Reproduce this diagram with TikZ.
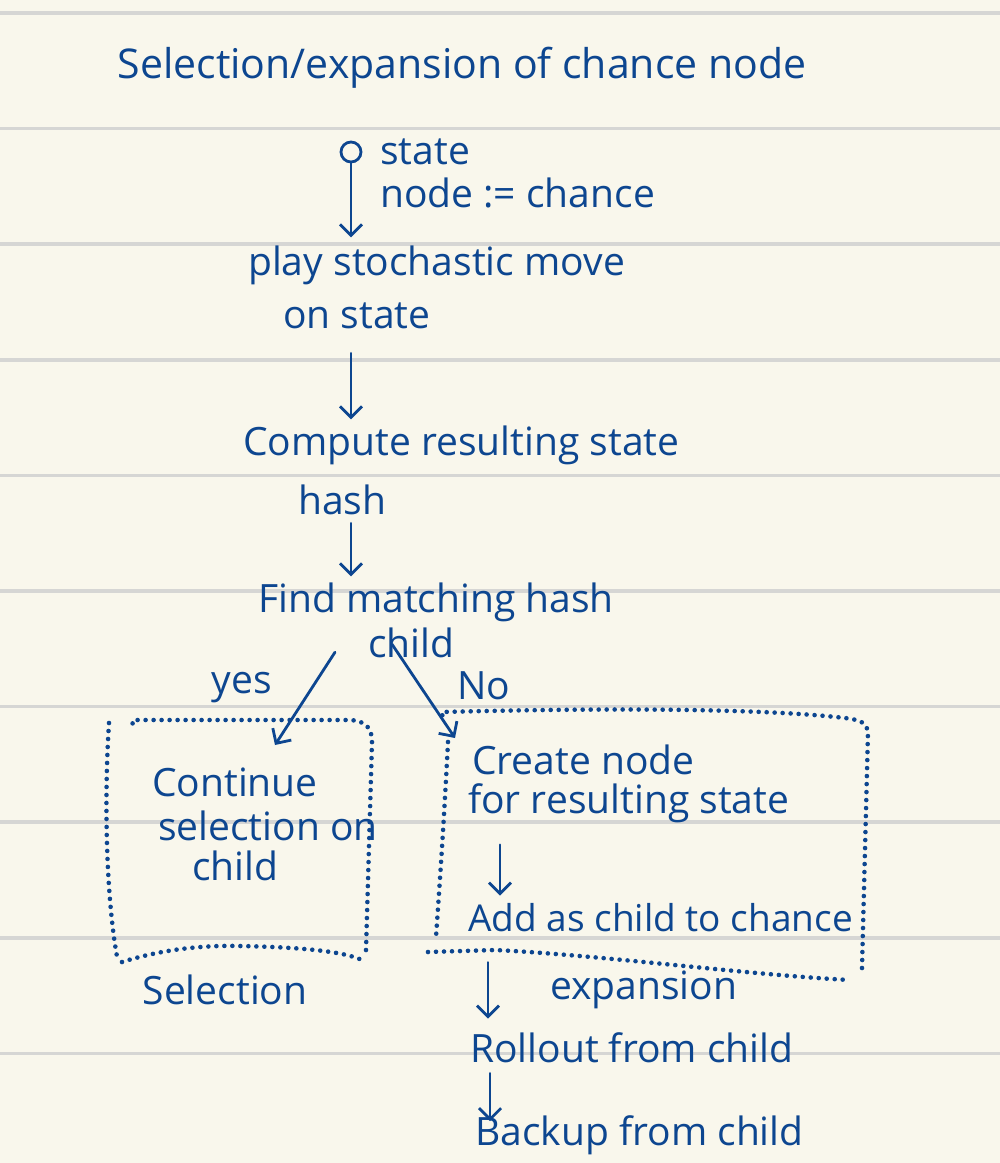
\documentclass[tikz,border=0pt]{standalone}
\usepackage{fontspec}
\setmainfont{Open Sans}
\usetikzlibrary{arrows.meta}
\definecolor{paper}{HTML}{F9F7EC}
\definecolor{rulegrey}{HTML}{D6D6D4}
\definecolor{ink}{HTML}{0D4690}
\tikzset{
  hw/.style={text=ink, inner sep=0pt, font=\fontsize{39}{46}\selectfont},
  arr/.style={draw=ink, line width=2.8pt, line cap=round, line join=round, -{Straight Barb[length=11pt,width=22pt]}},
  dotbox/.style={draw=ink, line width=4.6pt, line cap=round, dash pattern=on 0pt off 8pt},
  ruling/.style={draw=rulegrey, line width=3.5pt}
}
\begin{document}
\begin{tikzpicture}[x=1pt,y=-1pt]
\useasboundingbox (0,0) rectangle (1000,1163);
\fill[paper] (0,0) rectangle (1000,1163);
\foreach \yy in {13,128.6,244.2,359.8,475.4,591,706.6,822.2,937.8,1053.4}
  \draw[ruling] (0,\yy) -- (1000,\yy);

% texts
\node[hw, font=\fontsize{41}{48}\selectfont] (title) at (462,68) {Selection/expansion of chance node};
\node[draw=ink, line width=2.8pt, circle, minimum size=20pt, inner sep=0pt] (circ) at (351,152) {};
\node[hw, anchor=west] (state) at (380,152) {state};
\node[hw, anchor=west] (nodeeq) at (380,193) {node := chance};
\node[hw, anchor=west] (play) at (248,265) {play stochastic move};
\node[hw, anchor=west] (onstate) at (283,316) {on state};
\node[hw, anchor=west] (compute) at (243,445) {Compute resulting state};
\node[hw, anchor=west] (hash) at (298,500) {hash};
\node[hw, anchor=west] (find) at (258,602) {Find matching hash};
\node[hw, anchor=west] (child) at (368,643) {child};
\node[hw] (yes) at (242,688) {yes};
\node[hw] (no) at (484,686) {No};
\node[hw, anchor=west] (cont1) at (152,782) {Continue};
\node[hw, anchor=west] (cont2) at (158,826) {selection on};
\node[hw, anchor=west] (cont3) at (192,866) {child};
\node[hw, anchor=west] (create1) at (472,760) {Create node};
\node[hw, anchor=west] (create2) at (468,803) {for resulting state};
\node[hw, anchor=west, font=\fontsize{37}{44}\selectfont] (add) at (468,918) {Add as child to chance};
\node[hw] (selection) at (225,990) {Selection};
\node[hw, anchor=west] (expansion) at (550,990) {expansion};
\node[hw, anchor=west] (rollout) at (470,1048) {Rollout from child};
\node[hw, anchor=west] (backup) at (475,1135) {Backup from child};

\coordinate (ltop) at (275,745);
\coordinate (rtop) at (455,738);

% arrows
\draw[arr, shorten >=8pt] (circ.south) -- (circ.south |- play.north);
\draw[arr, shorten <=24pt, shorten >=6pt] (onstate.south -| circ) -- (compute.north -| circ);
\draw[arr, shorten <=8pt, shorten >=6pt] (hash.south -| circ) -- (find.north -| circ);
\draw[arr] ([xshift=-33pt, yshift=6pt]child.south west) -- (ltop);
\draw[arr] ([xshift=24pt, yshift=14pt]child.south west) -- (rtop);
\draw[arr, shorten <=22pt, shorten >=8pt] ([xshift=32pt]create2.south west) -- ([xshift=32pt]create2.south west |- add.north);
\draw[arr, shorten <=30pt, shorten >=14pt] ([xshift=20pt]add.south west) -- ([xshift=20pt]add.south west |- rollout.north);
\draw[arr, shorten <=10pt, shorten >=-6pt] ([xshift=20pt]rollout.south west) -- ([xshift=20pt]rollout.south west |- backup.north);

% dotted boxes
\draw[dotbox] (109,723) .. controls (104,800) and (106,900) .. (118,962);
\draw[dotbox] (122,962) .. controls (160,950) and (200,945) .. (240,946) .. controls (290,947) and (340,950) .. (362,960);
\draw[dotbox] (366,950) -- (372,742) .. controls (372,728) and (366,721) .. (350,720) -- (133,720) -- (132,728);
\draw[dotbox] (448,742) .. controls (444,820) and (440,880) .. (436,937);
\draw[dotbox] (428,952) -- (495,950) .. controls (600,955) and (750,975) .. (850,980);
\draw[dotbox] (862,968) -- (868,732) .. controls (866,722) and (860,720) .. (845,718) .. controls (760,708) and (600,708) .. (442,712) -- (443,722);
\end{tikzpicture}
\end{document}
